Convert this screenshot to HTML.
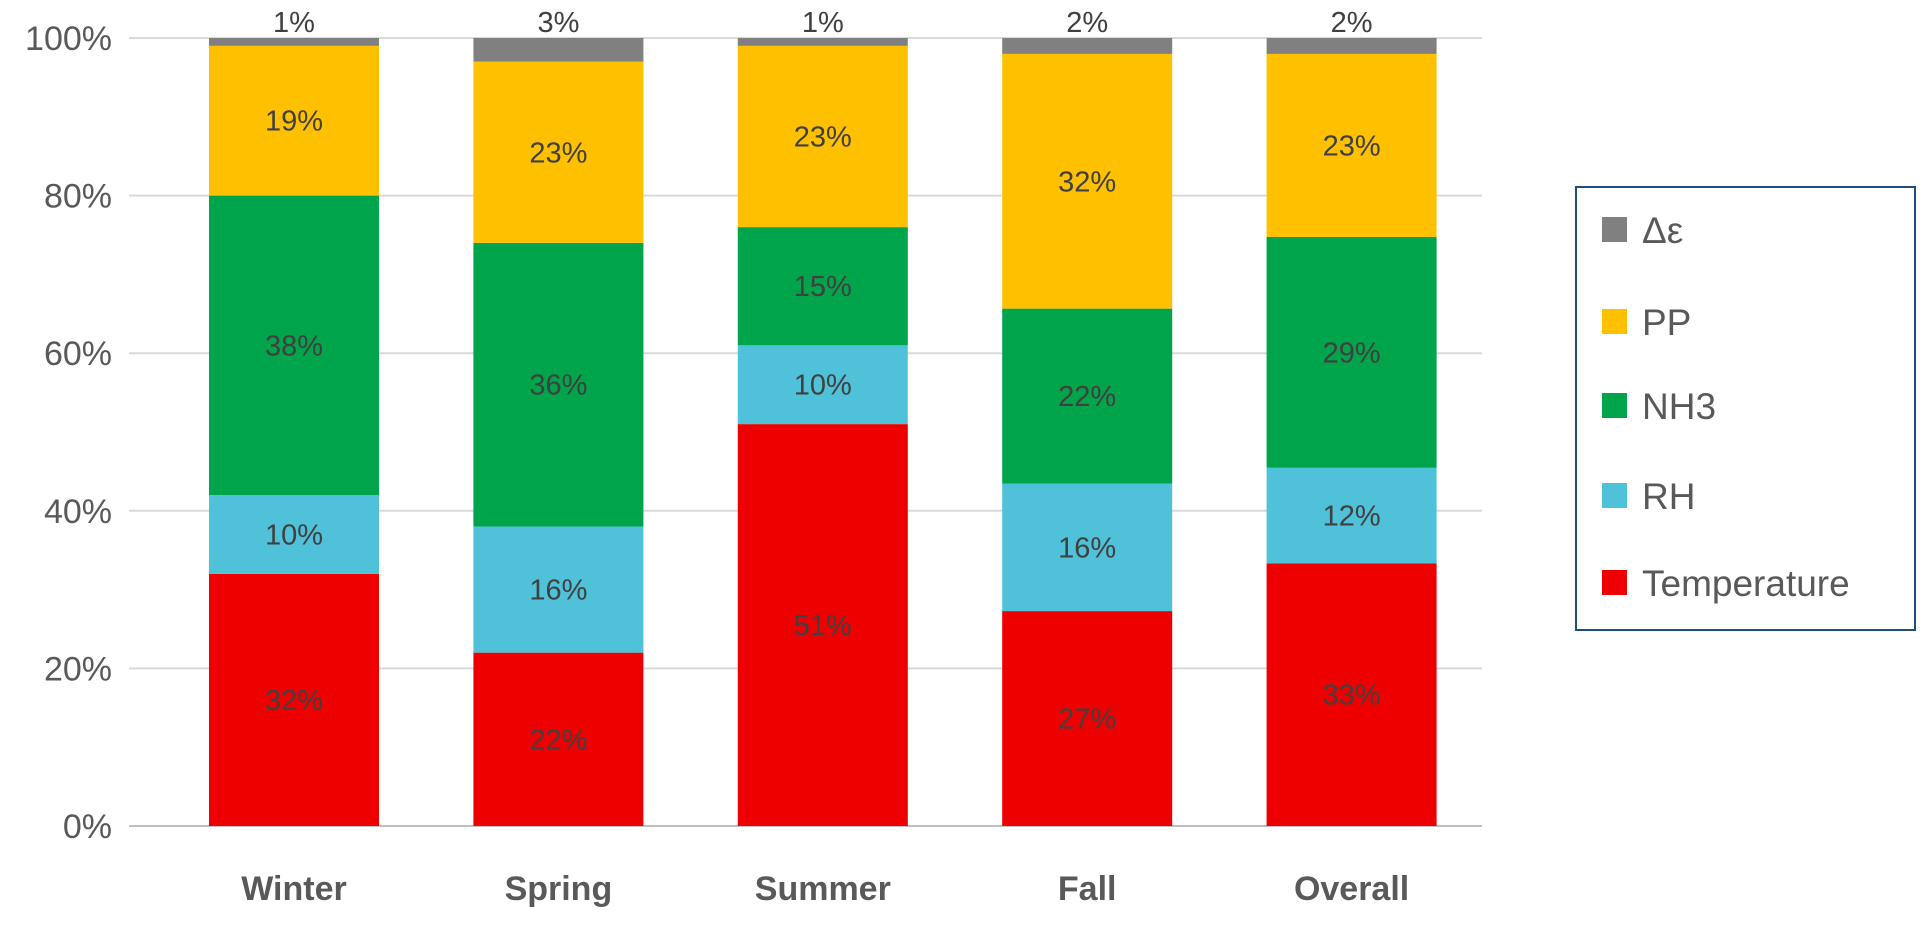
<!DOCTYPE html>
<html><head><meta charset="utf-8"><style>
body{margin:0;background:#fff;}
svg text{font-family:"Liberation Sans",sans-serif;}
</style></head><body>
<svg id="chart" width="1928" height="920" xmlns="http://www.w3.org/2000/svg"></svg>
<script>
const categories=["Winter","Spring","Summer","Fall","Overall"];
const seriesNames=["Temperature","RH","NH3","PP","Δε"];
const temperature=[32,22,51,27,33];
const rh=[10,16,10,16,12];
const nh3=[38,36,15,22,29];
const pp=[19,23,23,32,23];
const deps=[1,3,1,2,2];
const yTicks=[0,20,40,60,80,100];
const colors=["#EE0000","#4FC1D9","#00A44A","#FFC000","#808080"];
const series=[temperature,rh,nh3,pp,deps];
const svg=document.getElementById('chart');
const NS="http://www.w3.org/2000/svg";
const y0=826,y100=38,x0=129,x1=1482;
const y=v=>y0-(y0-y100)*v/100;
const bw=170,step=264.4,firstX=209;
const xb=i=>firstX+i*step;
function mk(t,a){const e=document.createElementNS(NS,t);for(const k in a)e.setAttribute(k,a[k]);svg.appendChild(e);return e;}
yTicks.forEach(t=>{
 const g=mk('line',{x1:x0,x2:x1,y1:y(t),y2:y(t),stroke:t===0?'#bfbfbf':'#d9d9d9','stroke-width':2});
 
 
 const l=mk('text',{x:112,y:y(t)+12,'text-anchor':'end','font-size':34,fill:'#595959'});
 l.textContent=t+'%';
 
 
});
categories.forEach((c,i)=>{
 let acc=0;
 let total=0;series.forEach(s=>total+=s[i]);
 const sc=100/total;
 series.forEach((s,k)=>{
  const v=s[i];
  const h=v*sc;
  const r=mk('rect',{x:xb(i),y:y(acc+h),width:bw,height:y(acc)-y(acc+h),fill:colors[k]});
  
  
  const ty=k===4?y(acc+h)-6:(y(acc)+y(acc+h))/2+10;
  const t=mk('text',{x:xb(i)+bw/2,y:ty,'text-anchor':'middle','font-size':29,fill:'#404040'});
  t.textContent=v+'%';
  
  
  acc+=h;
 });
 const cl=mk('text',{x:xb(i)+bw/2,y:900,'text-anchor':'middle','font-size':34,'font-weight':'bold',fill:'#595959'});
 cl.textContent=c;
 
 
});
const lb=mk('rect',{x:1576,y:187,width:339,height:443,fill:'#fff',stroke:'#1F4E79','stroke-width':2});


const ly=[230,322,406,496,583];
[4,3,2,1,0].forEach((k,j)=>{
 const m=mk('rect',{x:1602,y:ly[j]-13,width:25,height:25,fill:colors[k]});
 
 
 const t=mk('text',{x:1642,y:ly[j]+13,'font-size':37,fill:'#595959'});
 t.textContent=seriesNames[k];
 
 
});
</script>
</body></html>
